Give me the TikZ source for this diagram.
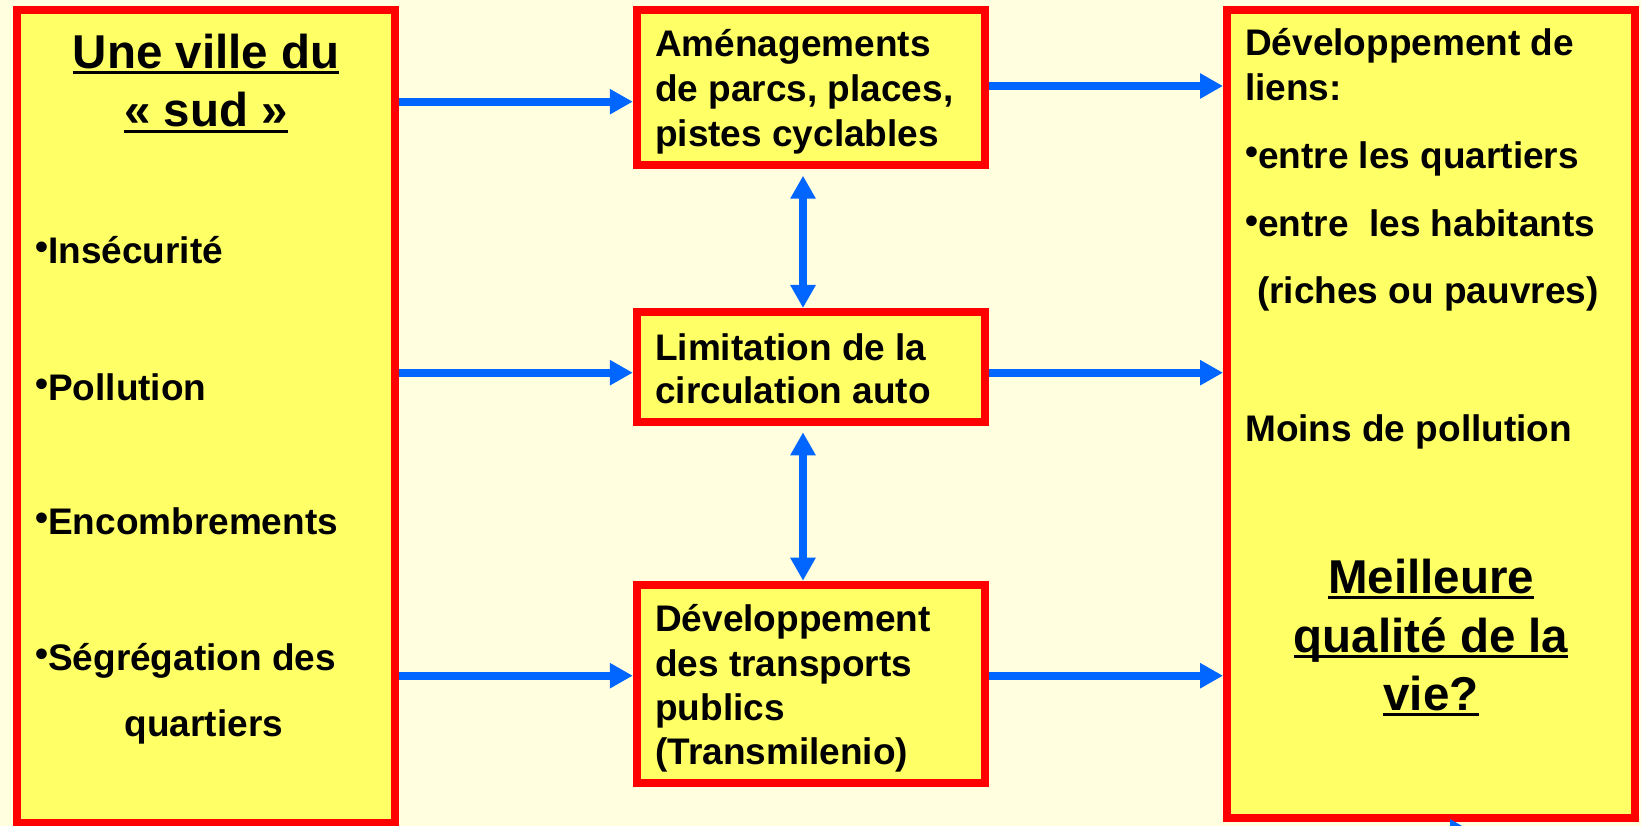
\documentclass[tikz,border=0pt]{standalone}
\usepackage{fontspec}
\setmainfont{Liberation Sans}
\usetikzlibrary{arrows.meta}
\definecolor{bgc}{RGB}{255,255,224}
\definecolor{boxy}{RGB}{255,255,102}
\definecolor{boxr}{RGB}{255,0,0}
\definecolor{arrb}{RGB}{0,102,255}
\newlength\ulw
\newcommand\myul[1]{\settowidth\ulw{#1}\rlap{\rule[-6pt]{\ulw}{3pt}}#1}
\newcommand\bul{\raisebox{3.5pt}{•}}
\begin{document}
\begin{tikzpicture}[x=1pt,y=-1pt,
  box/.style={draw=boxr, fill=boxy, line width=8pt, rectangle, inner sep=0pt},
  txt/.style={anchor=base west, inner sep=0pt, font=\fontsize{37}{44}\selectfont\bfseries},
  ttl/.style={anchor=base, inner sep=0pt, font=\fontsize{47.5}{59}\selectfont\bfseries},
  arr/.style={draw=arrb, line width=8pt, -{Triangle[length=23pt,width=24pt]}},
  darr/.style={draw=arrb, line width=8pt, {Triangle[length=23pt,width=24pt]}-{Triangle[length=23pt,width=24pt]}}]
\useasboundingbox (0,0) rectangle (1641,826);
\fill[bgc] (0,0) rectangle (1641,826);

% boxes
\node[box, minimum width=378pt, minimum height=812.5pt] (L) at (206,416.75) {};
\node[box, minimum width=348pt, minimum height=154.2pt] (M1) at (810.8,87.6) {};
\node[box, minimum width=348pt, minimum height=110pt] (M2) at (810.8,367) {};
\node[box, minimum width=348pt, minimum height=198.3pt] (M3) at (810.8,683.85) {};
\node[box, minimum width=408pt, minimum height=807.5pt] (R) at (1431,414.25) {};

% left box text
\node[ttl] (lt1) at (206,68.3) {\myul{Une ville du}};
\node[ttl] (lt2) at (206,126.7) {\myul{« sud »}};
\node[txt] (l1) at (35,263.3) {\bul Insécurité};
\node[txt] (l2) at (35,400) {\bul Pollution};
\node[txt] (l3) at (35,534) {\bul Encombrements};
\node[txt] (l4) at (35,670) {\bul Ségrégation des};
\node[txt] (l5) at (124.5,736.7) {quartiers};

% middle box texts
\node[txt] (a1) at (655,56.7) {Aménagements};
\node[txt] (a2) at (655,101.7) {de parcs, places,};
\node[txt] (a3) at (655,146.7) {pistes cyclables};
\node[txt] (b1) at (655,360) {Limitation de la};
\node[txt] (b2) at (655,403.3) {circulation auto};
\node[txt] (c1) at (655,631.7) {Développement};
\node[txt] (c2) at (655,676) {des transports};
\node[txt] (c3) at (655,720) {publics};
\node[txt] (c4) at (655,764) {(Transmilenio)};

% right box text
\node[txt] (r1) at (1245,56) {Développement de};
\node[txt] (r2) at (1245,100.7) {liens:};
\node[txt] (r3) at (1245,168.3) {\bul entre les quartiers};
\node[txt] (r4) at (1245,236.7) {\bul entre\ \ les habitants};
\node[txt] (r5) at (1257,303.3) {(riches ou pauvres)};
\node[txt] (r6) at (1245,441.7) {Moins de pollution};
\node[ttl] (rt1) at (1431,593.3) {\myul{Meilleure}};
\node[ttl] (rt2) at (1431,652) {\myul{qualité de la}};
\node[ttl] (rt3) at (1431,710) {\myul{vie?}};

% connector anchor points
\coordinate (m1i) at ([yshift=-14.1pt]M1.west);
\coordinate (m1o) at ([yshift=1.6pt]M1.east);
\coordinate (m2i) at ([yshift=-5.7pt]M2.west);
\coordinate (m2o) at ([yshift=-5.7pt]M2.east);
\coordinate (m3i) at ([yshift=8.15pt]M3.west);
\coordinate (m3o) at ([yshift=8.15pt]M3.east);

\draw[arr] (L.east |- m1i) -- (m1i);
\draw[arr] (L.east |- m2i) -- (m2i);
\draw[arr] (L.east |- m3i) -- (m3i);
\draw[arr] (m1o) -- (R.west |- m1o);
\draw[arr] (m2o) -- (R.west |- m2o);
\draw[arr] (m3o) -- (R.west |- m3o);

\draw[darr] ([xshift=-7.8pt,yshift=-7pt]M1.south) -- ([xshift=-7.8pt]M2.north);
\draw[darr] ([xshift=-7.8pt,yshift=-6.3pt]M2.south) -- ([xshift=-7.8pt]M3.north);

% partial arrow at bottom edge
\coordinate (e0) at (1300,832);
\coordinate (e1) at (1473,832);
\draw[arr] (e0) -- (e1);
\end{tikzpicture}
\end{document}
